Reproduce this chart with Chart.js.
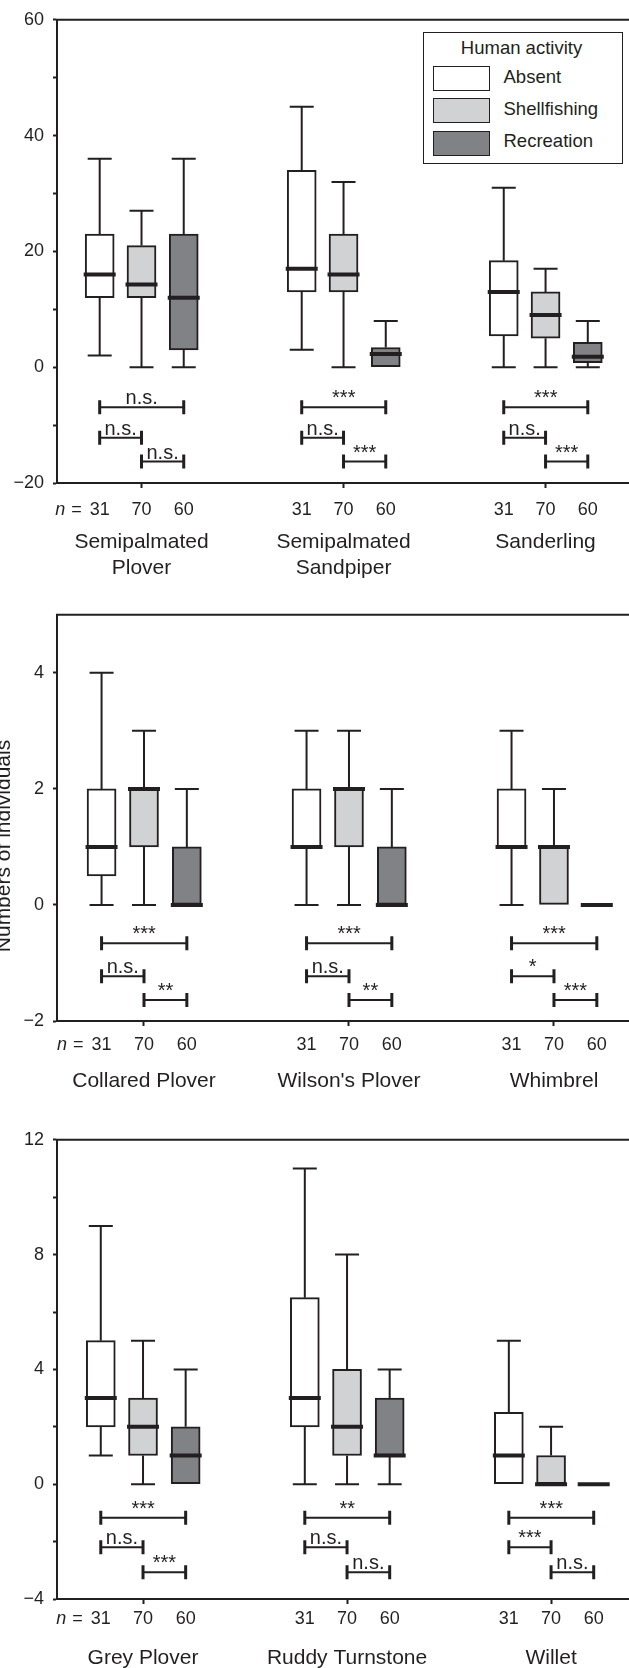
<!DOCTYPE html>
<html>
<head>
<meta charset="utf-8">
<script src="https://cdn.jsdelivr.net/npm/chart.js@4.4.1/dist/chart.umd.min.js"></script>
<style>
  html, body { margin: 0; padding: 0; background: #fff; }
  body { width: 629px; height: 1668px; position: relative; overflow: hidden;
         font-family: 'Liberation Sans', Arial, Helvetica, sans-serif; color: #231f20; }
  .panel { position: absolute; left: 0; width: 629px; }
  .panel canvas { display: block; }
  #legend { position: absolute; left: 423px; top: 32px; width: 200px; height: 132px;
            box-sizing: border-box; border: 1.5px solid #231f20; background: #fff; }
  #legend .ltitle { position: absolute; left: 0; right: 3px; top: 5px; text-align: center;
                    font-size: 18.5px; line-height: 20px; }
  #legend .sw { position: absolute; left: 8.5px; width: 57px; height: 25px;
                box-sizing: border-box; border: 1.5px solid #231f20; }
  #legend .lab { position: absolute; left: 79.5px; font-size: 18.5px; line-height: 20px; white-space: nowrap; }
</style>
</head>
<body>
<div class="panel" style="top:0px"><canvas id="c1" width="629" height="595"></canvas></div>
<div class="panel" style="top:595px"><canvas id="c2" width="629" height="525"></canvas></div>
<div class="panel" style="top:1120px"><canvas id="c3" width="629" height="548"></canvas></div>
<div id="legend"><div class="ltitle">Human activity</div></div>

<script>
const activities = ['Absent', 'Shellfishing', 'Recreation'];
const sampleSizes = [31, 70, 60];

// box stats per species: [min, q1, median, q3, max]
// significance per species: [absent-recreation, absent-shellfishing, shellfishing-recreation]

// top panel
const species1 = [['Semipalmated', 'Plover'], ['Semipalmated', 'Sandpiper'], 'Sanderling'];
const absent1 = [[2, 12, 16, 23, 36], [3, 13, 17, 34, 45], [0, 5.4, 13, 18.4, 31]];
const shell1 = [[0, 12, 14.3, 21, 27], [0, 13, 16, 23, 32], [0, 5, 9, 13, 17]];
const recre1 = [[0, 3, 12, 23, 36], [0, 0, 2.3, 3.4, 8], [0, 0.8, 1.8, 4.3, 8]];
const sig1 = [['n.s.', 'n.s.', 'n.s.'], ['***', 'n.s.', '***'], ['***', 'n.s.', '***']];
const yTicks1 = [-20, -10, 0, 10, 20, 30, 40, 50, 60];

// middle panel
const species2 = ['Collared Plover', "Wilson's Plover", 'Whimbrel'];
const absent2 = [[0, 0.5, 1, 2, 4], [0, 1, 1, 2, 3], [0, 1, 1, 2, 3]];
const shell2 = [[0, 1, 2, 2, 3], [0, 1, 2, 2, 3], [0, 0, 1, 1, 2]];
const recre2 = [[0, 0, 0, 1, 2], [0, 0, 0, 1, 2], [0, 0, 0, 0, 0]];
const sig2 = [['***', 'n.s.', '**'], ['***', 'n.s.', '**'], ['***', '*', '***']];
const yTicks2 = [-2, 0, 2, 4];

// bottom panel
const species3 = ['Grey Plover', 'Ruddy Turnstone', 'Willet'];
const absent3 = [[1, 2, 3, 5, 9], [0, 2, 3, 6.5, 11], [0, 0, 1, 2.5, 5]];
const shell3 = [[0, 1, 2, 3, 5], [0, 1, 2, 4, 8], [0, 0, 0, 1, 2]];
const recre3 = [[0, 0, 1, 2, 4], [0, 1, 1, 3, 4], [0, 0, 0, 0, 0]];
const sig3 = [['***', 'n.s.', '***'], ['**', 'n.s.', 'n.s.'], ['***', '***', 'n.s.']];
const yTicks3 = [-4, -2, 0, 2, 4, 6, 8, 10, 12];

const yTitle = 'Numbers of individuals';

const INK = '#231f20';
const FILLS = ['#ffffff', '#d1d2d4', '#808285'];
const OFFSETS = [-0.207, 0, 0.209];
const FONT = "'Liberation Sans', Arial, Helvetica, sans-serif";

Chart.defaults.font.family = FONT;
Chart.defaults.color = INK;

const fmt = v => (v < 0 ? '\u2212' + Math.abs(v) : String(v));

/**
 * Whiskers, caps and medians on top of the floating bars
 */
const boxPlot = {
    id: 'boxPlot',
    afterDatasetsDraw(chart) {
        const { ctx } = chart;
        const y = chart.scales.y;
        ctx.save();
        ctx.strokeStyle = INK;
        chart.data.datasets.forEach((ds, di) => {
            chart.getDatasetMeta(di).data.forEach((bar, i) => {
                const [lo, q1, med, q3, hi] = ds.stats[i];
                const x = bar.x;
                ctx.lineWidth = 2;
                [[q3, hi], [q1, lo]].forEach(([from, to]) => {
                    if (from === to) return;
                    const y0 = y.getPixelForValue(from);
                    const y1 = y.getPixelForValue(to);
                    ctx.beginPath();
                    ctx.moveTo(x, y0);
                    ctx.lineTo(x, y1);
                    ctx.moveTo(x - 12, y1);
                    ctx.lineTo(x + 12, y1);
                    ctx.stroke();
                });
                const ym = y.getPixelForValue(med);
                ctx.lineWidth = 4;
                ctx.beginPath();
                ctx.moveTo(x - 16, ym);
                ctx.lineTo(x + 16, ym);
                ctx.stroke();
            });
        });
        ctx.restore();
    }
};

/**
 * Significance brackets under each species
 */
const brackets = {
    id: 'brackets',
    afterDatasetsDraw(chart, args, opts) {
        const { ctx } = chart;
        const y = chart.scales.y;
        const pairs = [[0, 2], [0, 1], [1, 2]];
        ctx.save();
        ctx.strokeStyle = INK;
        ctx.fillStyle = INK;
        ctx.font = '20px ' + FONT;
        ctx.textAlign = 'center';
        ctx.textBaseline = 'alphabetic';
        opts.labels.forEach((row, s) => {
            row.forEach((txt, k) => {
                const [a, b] = pairs[k];
                const xa = chart.getDatasetMeta(a).data[s].x;
                const xb = chart.getDatasetMeta(b).data[s].x;
                const yy = y.getPixelForValue(opts.levels[k]);
                ctx.lineWidth = 2;
                ctx.beginPath();
                ctx.moveTo(xa, yy);
                ctx.lineTo(xb, yy);
                ctx.stroke();
                ctx.lineWidth = 3;
                ctx.beginPath();
                ctx.moveTo(xa, yy - 7); ctx.lineTo(xa, yy + 7);
                ctx.moveTo(xb, yy - 7); ctx.lineTo(xb, yy + 7);
                ctx.stroke();
                ctx.fillText(txt, (xa + xb) / 2, yy - 3);
            });
        });
        ctx.restore();
    }
};

/**
 * Top frame line, the "n =" prefix and the shared y title
 */
const frame = {
    id: 'frame',
    afterDraw(chart, args, opts) {
        const { ctx, chartArea: ca } = chart;
        ctx.save();
        ctx.strokeStyle = INK;
        ctx.fillStyle = INK;
        ctx.lineWidth = 2;
        ctx.beginPath();
        ctx.moveTo(ca.left - 1, ca.top);
        ctx.lineTo(ca.right, ca.top);
        ctx.stroke();

        const x = chart.scales.x;
        const tk = x.options.ticks;
        const yc = x.top + x.options.grid.tickLength + tk.padding + 18 * 1.2 / 2;
        ctx.font = '18px ' + FONT;
        ctx.textBaseline = 'middle';
        ctx.textAlign = 'right';
        const first = x.getPixelForValue(x.ticks[0].value) - ctx.measureText(String(sampleSizes[0])).width / 2;
        ctx.fillText('=', first - 8, yc);
        const eqW = ctx.measureText('=').width;
        ctx.font = 'italic 18px ' + FONT;
        ctx.fillText('n', first - 8 - eqW - 6, yc);

        if (opts.title) {
            ctx.font = '21px ' + FONT;
            ctx.textAlign = 'center';
            ctx.textBaseline = 'alphabetic';
            ctx.translate(opts.title.x, opts.title.y);
            ctx.rotate(-Math.PI / 2);
            ctx.fillText(yTitle, 0, 0);
        }
        ctx.restore();
    }
};

function makePanel(canvasId, species, stats, sig, yTicks, major, lay) {
    const datasets = stats.map((rows, a) => ({
        label: activities[a],
        data: rows.map((r, s) => ({ x: s + 1 + OFFSETS[a], y: [r[1], r[3]] })),
        stats: rows,
        backgroundColor: FILLS[a],
        borderColor: INK,
        borderWidth: 2,
        borderSkipped: false,
        barThickness: 29,
        grouped: false,
    }));

    const nTicks = [];
    species.forEach((_, s) => OFFSETS.forEach(o => nTicks.push(s + 1 + o)));

    return new Chart(document.getElementById(canvasId), {
        type: 'bar',
        data: { datasets },
        options: {
            responsive: false,
            animation: false,
            events: [],
            layout: { padding: { top: lay.padTop, left: 0, right: 0, bottom: 0 } },
            plugins: {
                legend: { display: false },
                tooltip: { enabled: false },
                brackets: { labels: sig, levels: lay.levels },
                frame: { title: lay.title },
            },
            scales: {
                x: {
                    type: 'linear',
                    position: 'bottom',
                    weight: 0,
                    min: lay.xMin,
                    max: lay.xMax,
                    offset: false,
                    afterBuildTicks: s => { s.ticks = nTicks.map(v => ({ value: v })); },
                    ticks: {
                        callback: (v, i) => String(sampleSizes[i % 3]),
                        font: { size: 18 },
                        color: INK,
                        padding: lay.nPad,
                        autoSkip: false,
                        maxRotation: 0,
                        minRotation: 0,
                    },
                    grid: {
                        offset: false,
                        drawOnChartArea: false,
                        drawTicks: true,
                        tickLength: 5,
                        tickWidth: 2,
                        tickColor: c => (c.index % 3 === 1 ? INK : 'rgba(0,0,0,0)'),
                    },
                    border: { color: INK, width: 2 },
                    afterFit: s => { s.height = lay.nH; },
                },
                names: {
                    type: 'linear',
                    axis: 'x',
                    position: 'bottom',
                    weight: 1,
                    min: lay.xMin,
                    max: lay.xMax,
                    offset: false,
                    afterBuildTicks: s => { s.ticks = species.map((_, i) => ({ value: i + 1 })); },
                    ticks: {
                        callback: (v, i) => species[i],
                        font: { size: 21, lineHeight: 1.25 },
                        color: INK,
                        padding: lay.namePad,
                        autoSkip: false,
                        maxRotation: 0,
                        minRotation: 0,
                    },
                    grid: { display: false, drawTicks: false },
                    border: { display: false },
                    afterFit: s => { s.height = lay.nameH; },
                },
                y: {
                    min: lay.yMin,
                    max: lay.yMax,
                    afterBuildTicks: s => { s.ticks = yTicks.map(v => ({ value: v })); },
                    ticks: {
                        callback: v => (v % major === 0 ? fmt(v) : ''),
                        font: { size: 18 },
                        color: INK,
                        padding: 9,
                    },
                    grid: {
                        drawOnChartArea: false,
                        tickLength: 4,
                        tickWidth: 2,
                        tickColor: INK,
                    },
                    border: { color: INK, width: 2 },
                    afterFit: s => { s.width = 57; },
                },
            },
        },
        plugins: [boxPlot, brackets, frame],
    });
}

makePanel('c1', species1, [absent1, shell1, recre1], sig1, yTicks1, 20, {
    padTop: 16, xMin: 0.5817, xMax: 3.413, yMin: -20, yMax: 60,
    nPad: 11, nH: 40, namePad: 6, nameH: 72, levels: [-6.9, -12.2, -16.3],
});

makePanel('c2', species2, [absent2, shell2, recre2], sig2, yTicks2, 2, {
    padTop: 14, xMin: 0.5756, xMax: 3.366, yMin: -2, yMax: 5,
    nPad: 8, nH: 40, namePad: 7, nameH: 59, levels: [-0.66, -1.23, -1.64],
    title: { x: 10, y: 251 },
});

makePanel('c3', species3, [absent3, shell3, recre3], sig3, yTicks3, 4, {
    padTop: 11.5, xMin: 0.5784, xMax: 3.382, yMin: -4, yMax: 12,
    nPad: 4, nH: 36, namePad: 10, nameH: 33, levels: [-1.17, -2.2, -3.07],
});

/**
 * Legend box in the top panel
 */
const legendBox = document.getElementById('legend');
activities.forEach((name, i) => {
    const sw = document.createElement('div');
    sw.className = 'sw';
    sw.style.top = (32.5 + i * 32.5) + 'px';
    sw.style.background = FILLS[i];
    legendBox.appendChild(sw);

    const lab = document.createElement('div');
    lab.className = 'lab';
    lab.style.top = (34 + i * 32.2) + 'px';
    lab.textContent = name;
    legendBox.appendChild(lab);
});
</script>
</body>
</html>
